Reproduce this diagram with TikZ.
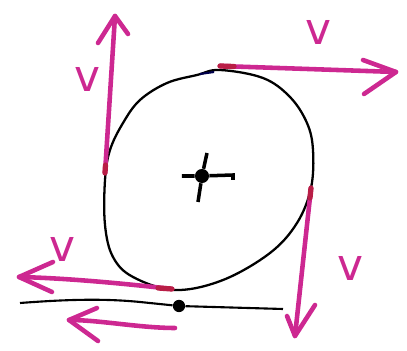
\documentclass[tikz,border=0pt]{standalone}
\usepackage{fontspec}
\setsansfont{DejaVu Sans}
\begin{document}
\begin{tikzpicture}[x=0.02cm,y=-0.02cm,
  vel/.style={draw=vmag,line width=2.6pt,line cap=round,line join=round},
  tip/.style={draw=vmag,line width=2.6pt,line cap=round,line join=round},
  blob/.style={draw=black,line width=1.3pt},
  vlab/.style={text=vmag,font=\sffamily\fontsize{25}{25}\selectfont,inner sep=0pt},
  contact/.style={draw=vred,line width=3pt,line cap=round}]
\definecolor{vmag}{RGB}{205,40,145}
\definecolor{vred}{RGB}{185,30,70}
\useasboundingbox (0,0) rectangle (407,351);
% body outline
\draw[blob] plot[smooth cycle,tension=0.6] coordinates {
 (220,70) (263,78) (290,97) (307,123) (313,150) (311,188) (297,223) (270,253)
 (223,280) (175,290) (133,277) (113,257) (105,225) (105,180) (110,150)
 (123,123) (140,100) (167,83) (197,75)};
% contact points
\coordinate (T) at (220,66);
\coordinate (L) at (105,173);
\coordinate (R) at (311,188);
\coordinate (B) at (172,289);
% arrow tips
\coordinate (Tt) at (396,72);
\coordinate (Lt) at (115,16);
\coordinate (Rt) at (295,336);
\coordinate (Bt) at (19,277);
% top arrow
\draw[vel] (T) -- (Tt);
\draw[tip] (363,60) -- (Tt) -- (364,94);
\draw[contact] (T) -- ++(14,0.5);
% left arrow
\draw[vel] (L) -- (Lt);
\draw[tip] (98,43) -- (Lt) -- (128,34);
\draw[contact] (L) -- ++(0.5,-8);
% right arrow
\draw[vel] (R) -- (Rt);
\draw[tip] (287,316) -- (Rt) -- (315,305);
\draw[contact] (R) -- ++(-1,10);
% bottom arrow
\draw[vel] (B) .. controls (110,282) and (60,278) .. (Bt);
\draw[tip] (53,262) -- (Bt) -- (52,292);
\draw[contact] (B) -- ++(-14,-1);
% small tick on top of outline
\draw[draw=black!70!blue,line width=1.2pt] (200,74) -- (214,72);
% ground line
\coordinate (G1) at (20,303);
\coordinate (G2) at (283,309);
\node[circle,fill=black,inner sep=0pt,minimum size=7pt] (Gd) at (179,306) {};
\draw[black,line width=1.2pt] (G1) .. controls (60,300) and (100,298) .. (140,302)
  -- (Gd) -- (G2);
% lower arrow
\coordinate (Ls) at (175,328);
\coordinate (Lw) at (69,320);
\draw[vel] (Ls) .. controls (140,328) and (100,320) .. (Lw);
\draw[tip] (97,308) -- (Lw) -- (98,341);
% centre cross
\node[circle,fill=black,inner sep=0pt,minimum size=8pt] (C) at (202,176) {};
\draw[black,line width=2pt] (207,153) -- (C) -- (198,202);
\draw[black,line width=2pt] (182,176) -- (C) -- (233,175) -- (233,180);
% labels
\node[vlab] (v1) at (318,32) {v};
\node[vlab] (v2) at (87,79) {v};
\node[vlab] (v3) at (350,268) {v};
\node[vlab] (v4) at (62,249) {v};
\end{tikzpicture}
\end{document}
